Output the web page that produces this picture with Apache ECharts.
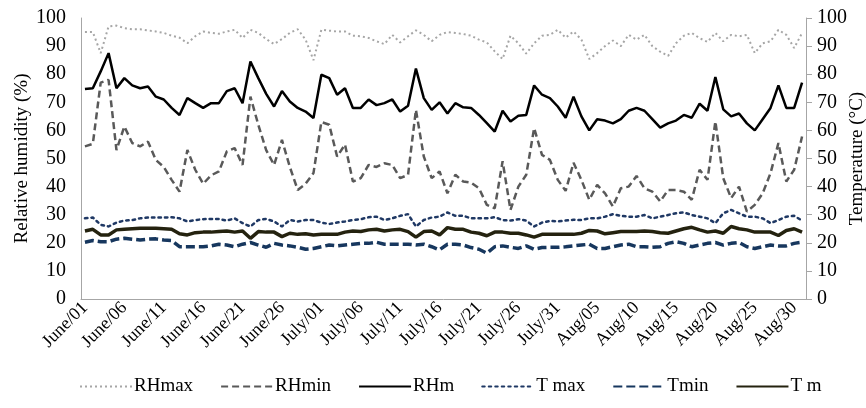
<!DOCTYPE html>
<html><head><meta charset="utf-8">
<script src="https://cdn.jsdelivr.net/npm/echarts@6/dist/echarts.min.js"></script>
<style>html,body{margin:0;padding:0;background:#fff}#c{width:866px;height:408px}</style>
</head><body><div id="c"></div>
<script>
const months = [['June',30],['July',31],['Aug',31]];
const categories = [];
months.forEach(([m,n])=>{for(let d=1;d<=n;d++)categories.push(m+'/'+String(d).padStart(2,'0'));});
const yTicks = [0,10,20,30,40,50,60,70,80,90,100];

const RHmax = [95,95,87.5,97,97.3,96.4,96,96,95.6,95.2,94.7,93.7,93,91,93.5,95.2,94.7,94.4,95.2,95.8,92.9,95.8,94.7,92.5,90.7,92.5,94.7,96,92.3,85,
95.8,95.5,95.2,95.2,93.7,93.5,92.9,91.7,90.7,94,91.3,93.5,95.6,94,91.7,94,95,94.7,94.3,93.7,92.3,91.3,88.1,85.4,93.7,91,87.3,91,93.7,94,95.8,
93,95.2,92.3,85.4,87.5,90,92,90,94,92.3,94,90,88,86.5,91,93.7,94.7,92.8,91.5,94.7,91.7,94,93.5,94,87.5,91,91.7,95.8,94,89.3,94.7];
const RHmin = [54.3,55.2,77,78,53,61.4,55.5,54.3,56,49.5,47,42.4,38.2,53,46,41,44,45.4,52.5,53.7,47.7,72,62,53,47.7,56.6,47,38.8,41,44.8,
63,62,50.7,55,41.8,43,47.7,47,48.3,47.7,43,44.2,67.3,50.7,43,45.4,37.6,44.2,41.8,41.4,39.4,33.5,32.3,49,31.7,40,44.2,60.8,51.3,49.5,42.4,
38.5,48.5,42.4,35.3,40.6,37.6,32.9,39.4,40,43.8,39.4,38.2,34.7,38.8,38.8,38.2,35.3,46,42.4,63.2,43,35.9,40,31.1,33.5,37.6,44.8,55.5,41.8,46,57.8];
const RHm = [74.7,75,81,87.5,75,78.6,76,75,75.6,72,71,68,65.5,71.5,69.7,68,69.7,69.7,74,75,69.7,84.5,78.6,73,68.5,74,70.3,68,66.7,64.4,
79.8,78.6,72.7,75,68,68,71,69,69.7,71,66.7,68.8,82,71.5,67.3,70,66,69.7,68.2,68,65.5,62.6,59.6,67,63.2,65.2,65.5,76,72.7,71.5,68.5,
64.5,72,65,60,64,63.5,62.5,64,67,68,67,64,61,62.5,63.5,65.5,64.5,69.5,67,79,67.5,65,66,62.5,60,64,68,76,68,68,77];
const Tmax = [28.7,29,26.4,25.8,27.2,27.9,28.1,28.7,29,29,29,29.1,28.7,27.6,28.1,28.4,28.5,28.5,27.9,28.7,27,25.8,28.1,28.5,27.6,25.8,28.1,27.6,28.1,28.1,
27.2,26.7,27.2,27.6,28.1,28.4,29.1,29.3,28.1,28.7,29.6,30.2,25.8,28.1,29,29.3,30.8,29.6,29.6,28.7,28.7,28.7,29.1,28.1,27.9,28.4,27.9,25.8,27.2,27.8,27.6,
27.9,28.2,28.1,28.7,28.7,29.3,30.2,29.6,29.3,29.3,29.9,28.7,29.3,29.9,30.5,30.8,29.9,29.3,28.7,27,30.5,31.7,30.5,29.3,29.3,28.7,27,28.1,29.3,29.6,27.9];
const Tmin = [20.2,20.8,20.4,20.4,21.3,21.6,21.3,21,21.3,21.4,21,20.8,18.6,18.6,18.6,18.6,18.9,19.5,19.2,18.6,19.5,20.1,19.2,18.4,19.8,19.2,18.9,18.4,17.7,18,
18.6,19.2,18.9,19.2,19.5,19.8,19.8,20.2,19.5,19.5,19.5,19.5,19.2,19.5,18.6,17.5,19.5,19.5,19.2,18.3,17.7,16.3,18.6,18.9,18.4,18,18.9,17.7,18.3,18.4,18.4,
18.6,18.9,19.2,19.5,18,18,18.6,19.2,19.5,18.6,18.6,18.4,18.6,19.8,20.4,19.8,18.6,19.2,19.8,20.1,19.2,19.8,20.1,18.6,18,18.6,19.2,18.9,18.9,19.8,20.2];
const Tm = [24.2,24.8,22.8,22.8,24.6,24.8,25,25.2,25.2,25.2,25,24.8,23.2,22.8,23.6,23.8,23.8,24,24.2,23.8,24.2,21.6,24,23.8,23.8,22.2,23.4,23,23.2,22.8,
23,23,23,23.8,24.2,24,24.6,24.8,24.2,24.6,24.8,24,22,24,24.2,22.8,25.4,24.8,24.8,23.8,23.4,22.5,23.8,23.8,23.4,23.4,22.8,22,23,23,23,
23,23,23.4,24.4,24.2,23.2,23.6,24,24,24,24.2,24,23.6,23.4,24.2,25,25.5,24.6,23.8,24.2,23.4,25.8,25,24.6,23.8,23.8,23.8,22.6,24.4,25,23.8];

const serif = '"Liberation Serif","DejaVu Serif",serif';
const chart = echarts.init(document.getElementById('c'));
function yAx(name, pos){
  return {type:'value', min:0, max:100, interval:10, position:pos,
    name:name, nameLocation:'middle', nameGap:pos==='left'?59:51, nameRotate:90,
    nameMoveOverlap:false,
    nameTextStyle:{fontFamily:serif,fontSize:19,color:'#000',verticalAlign:'middle'},
    axisLine:{show:true,lineStyle:{color:'#a6a6a6',width:1}},
    axisTick:{show:pos==='right',length:6,lineStyle:{color:'#a6a6a6'}},
    splitLine:{show:false},
    axisLabel:{fontFamily:serif,fontSize:20,color:'#000',margin:pos==='left'?15:11,
      formatter:v=>yTicks.includes(v)?String(v):''}};
}
const colors = {RHmax:'#a6a6a6',RHmin:'#595959',RHm:'#000000',Tmax:'#1f3864',Tmin:'#17375e',Tm:'#24220f'};
const base = {type:'line', symbol:'none', smooth:false};
chart.setOption({
  animation:false,
  grid:{left:81,right:60,top:18,bottom:109,containLabel:false,outerBoundsMode:'none'},
  legend:{top:372,left:74,itemWidth:52,itemHeight:12,itemGap:27,
    itemStyle:{opacity:0},
    textStyle:{fontFamily:serif,fontSize:19,color:'#000',padding:[0,0,0,-3]},
    data:['RHmax','RHmin','RHm','T max','Tmin','T m']},
  xAxis:{type:'category',data:categories,boundaryGap:true,
    axisLine:{lineStyle:{color:'#a6a6a6'}},axisTick:{show:false},
    axisLabel:{interval:4,rotate:45,fontFamily:serif,fontSize:18,color:'#000',margin:6}},
  yAxis:[yAx('Relative humidity (%)','left'), yAx('Temperature (°C)','right')],
  series:[
    Object.assign({},base,{name:'RHmax',data:RHmax,yAxisIndex:0,itemStyle:{color:colors.RHmax},lineStyle:{color:colors.RHmax,width:2,type:[2,3]}}),
    Object.assign({},base,{name:'RHmin',data:RHmin,yAxisIndex:0,itemStyle:{color:colors.RHmin},lineStyle:{color:colors.RHmin,width:2.5,type:[7,4]}}),
    Object.assign({},base,{name:'RHm',data:RHm,yAxisIndex:0,itemStyle:{color:colors.RHm},lineStyle:{color:colors.RHm,width:2.5}}),
    Object.assign({},base,{name:'T max',data:Tmax,yAxisIndex:1,itemStyle:{color:colors.Tmax},lineStyle:{color:colors.Tmax,width:2.5,type:[2.5,4],cap:'round'}}),
    Object.assign({},base,{name:'Tmin',data:Tmin,yAxisIndex:1,itemStyle:{color:colors.Tmin},lineStyle:{color:colors.Tmin,width:3.5,type:[9,4]}}),
    Object.assign({},base,{name:'T m',data:Tm,yAxisIndex:1,itemStyle:{color:colors.Tm},lineStyle:{color:colors.Tm,width:3.5}})
  ]
});
</script></body></html>
